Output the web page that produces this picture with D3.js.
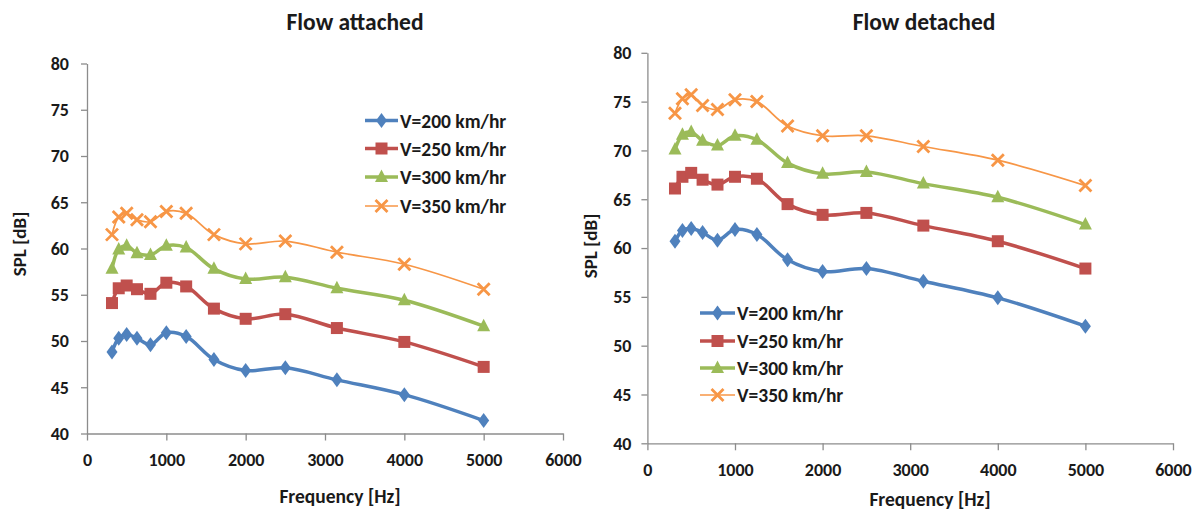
<!DOCTYPE html>
<html>
<head>
<meta charset="utf-8">
<script src="https://cdn.jsdelivr.net/npm/d3@7"></script>
<style>
  html, body { margin: 0; padding: 0; background: #ffffff; }
  svg { display: block; }
  text { font-family: Carlito, Calibri, Lato, "Open Sans", sans-serif; font-weight: bold; fill: #1a1a1a; }
</style>
</head>
<body>
<svg id="chart" width="1202" height="512"></svg>
<script>
// ---------- data ----------
const frequencies = [315, 400, 500, 630, 800, 1000, 1250, 1600, 2000, 2500, 3150, 4000, 5000];
const seriesNames = ["V=200 km/hr", "V=250 km/hr", "V=300 km/hr", "V=350 km/hr"];
const xTicks = [0, 1000, 2000, 3000, 4000, 5000, 6000];
const yTicks = [40, 45, 50, 55, 60, 65, 70, 75, 80];

const attached200 = [48.8, 50.3, 50.7, 50.3, 49.6, 50.9, 50.5, 48.0, 46.8, 47.1, 45.8, 44.2, 41.4];
const attached250 = [54.1, 55.7, 56.0, 55.6, 55.1, 56.3, 55.9, 53.5, 52.4, 52.9, 51.4, 49.9, 47.2];
const attached300 = [57.8, 59.9, 60.3, 59.5, 59.3, 60.3, 60.1, 57.8, 56.7, 56.9, 55.7, 54.4, 51.6];
const attached350 = [61.5, 63.4, 63.8, 63.1, 62.9, 64.0, 63.8, 61.5, 60.5, 60.8, 59.6, 58.3, 55.6];

const detached200 = [60.7, 61.8, 62.0, 61.6, 60.8, 61.9, 61.4, 58.8, 57.6, 57.9, 56.6, 54.9, 52.0];
const detached250 = [66.1, 67.3, 67.7, 67.0, 66.5, 67.3, 67.1, 64.5, 63.4, 63.6, 62.3, 60.7, 57.9];
const detached300 = [70.1, 71.6, 71.9, 71.0, 70.5, 71.5, 71.1, 68.7, 67.6, 67.8, 66.6, 65.2, 62.4];
const detached350 = [73.8, 75.3, 75.7, 74.6, 74.2, 75.2, 75.0, 72.5, 71.5, 71.5, 70.4, 69.0, 66.4];

// ---------- styles ----------
const colors = ["#4F81BD", "#C0504D", "#9BBB59", "#F79646"];
const markers = ["diamond", "square", "triangle", "cross"];
const lineWidths = [3.5, 3.5, 3.5, 1.7];
const axisColor = "#8c8c8c";

const svg = d3.select("#chart");

function drawMarker(g, type, color, x, y) {
  if (type === "diamond") {
    g.append("path").attr("d", `M${x},${y-7.5}L${x+5.5},${y}L${x},${y+7.5}L${x-5.5},${y}Z`).attr("fill", color);
  } else if (type === "square") {
    g.append("rect").attr("x", x-6).attr("y", y-6).attr("width", 12).attr("height", 12).attr("fill", color);
  } else if (type === "triangle") {
    g.append("path").attr("d", `M${x},${y-7.5}L${x+6.5},${y+5}L${x-6.5},${y+5}Z`).attr("fill", color);
  } else {
    g.append("path").attr("d", `M${x-6},${y-6}L${x+6},${y+6}M${x+6},${y-6}L${x-6},${y+6}`)
      .attr("stroke", color).attr("stroke-width", 2.8).attr("fill", "none");
  }
}

function drawPanel(cfg) {
  const x = d3.scaleLinear().domain([0, 6000]).range([cfg.x0, cfg.x1]);
  const y = d3.scaleLinear().domain([40, 80]).range([cfg.yBottom, cfg.yTop]);
  const g = svg.append("g");

  // axes
  const yAxis = g.append("g").attr("transform", `translate(${cfg.x0},0)`)
    .call(d3.axisLeft(y).tickValues(yTicks).tickFormat(d3.format("d")).tickSize(6).tickSizeOuter(0).tickPadding(cfg.yPad));
  const xAxis = g.append("g").attr("transform", `translate(0,${cfg.yBottom})`)
    .call(d3.axisBottom(x).tickValues(xTicks).tickFormat(d3.format("d")).tickSize(7).tickSizeOuter(0).tickPadding(13));
  [yAxis, xAxis].forEach(a => {
    a.selectAll("path.domain").attr("stroke", axisColor).attr("stroke-width", 1.3);
    a.selectAll(".tick line").attr("stroke", axisColor).attr("stroke-width", 1.3);
    a.selectAll(".tick text").attr("font-size", 18).attr("fill", "#1a1a1a")
      .style("font-family", "Carlito, Calibri, Lato, sans-serif").style("font-weight", "bold");
  });

  // series
  const line = d3.line().x((d, i) => x(frequencies[i])).y(d => y(d)).curve(d3.curveCatmullRom.alpha(0.5));
  cfg.series.forEach((vals, si) => {
    g.append("path").attr("d", line(vals)).attr("fill", "none")
      .attr("stroke", colors[si]).attr("stroke-width", lineWidths[si]).attr("stroke-linejoin", "round");
  });
  cfg.series.forEach((vals, si) => {
    const mg = g.append("g");
    vals.forEach((v, i) => drawMarker(mg, markers[si], colors[si], x(frequencies[i]), y(v)));
  });

  // title
  g.append("text").attr("x", cfg.titleX).attr("y", 30).attr("text-anchor", "middle")
    .attr("font-size", 23.5).text(cfg.title);
  // axis titles
  g.append("text").attr("x", cfg.xTitleX).attr("y", cfg.xTitleY).attr("text-anchor", "middle")
    .attr("font-size", 19.5).text("Frequency [Hz]");
  g.append("text").attr("transform", `translate(${cfg.yTitleX},${cfg.yTitleY}) rotate(-90)`)
    .attr("text-anchor", "middle").attr("dominant-baseline", "central")
    .attr("font-size", 19).text("SPL [dB]");

  // legend
  const lg = g.append("g");
  seriesNames.forEach((name, si) => {
    const ly = cfg.legendRows[si];
    lg.append("line").attr("x1", cfg.legendX0).attr("x2", cfg.legendX1).attr("y1", ly).attr("y2", ly)
      .attr("stroke", colors[si]).attr("stroke-width", lineWidths[si]);
    drawMarker(lg, markers[si], colors[si], (cfg.legendX0 + cfg.legendX1) / 2, ly);
    lg.append("text").attr("x", cfg.legendX1 + 2).attr("y", ly).attr("dominant-baseline", "central")
      .attr("font-size", 19.5).text(name);
  });
}

drawPanel({
  title: "Flow attached", titleX: 355,
  x0: 87, x1: 563, yBottom: 433.5, yTop: 63.5, yPad: 12,
  xTitleX: 340, xTitleY: 503, yTitleX: 19, yTitleY: 244,
  series: [attached200, attached250, attached300, attached350],
  legendX0: 365, legendX1: 398, legendRows: [120.5, 148.5, 177, 206]
});
drawPanel({
  title: "Flow detached", titleX: 924,
  x0: 647.4, x1: 1173, yBottom: 443.3, yTop: 52.8, yPad: 10,
  xTitleX: 930, xTitleY: 506, yTitleX: 590, yTitleY: 246,
  series: [detached200, detached250, detached300, detached350],
  legendX0: 700, legendX1: 735, legendRows: [313, 341, 368, 395]
});
</script>
</body>
</html>
